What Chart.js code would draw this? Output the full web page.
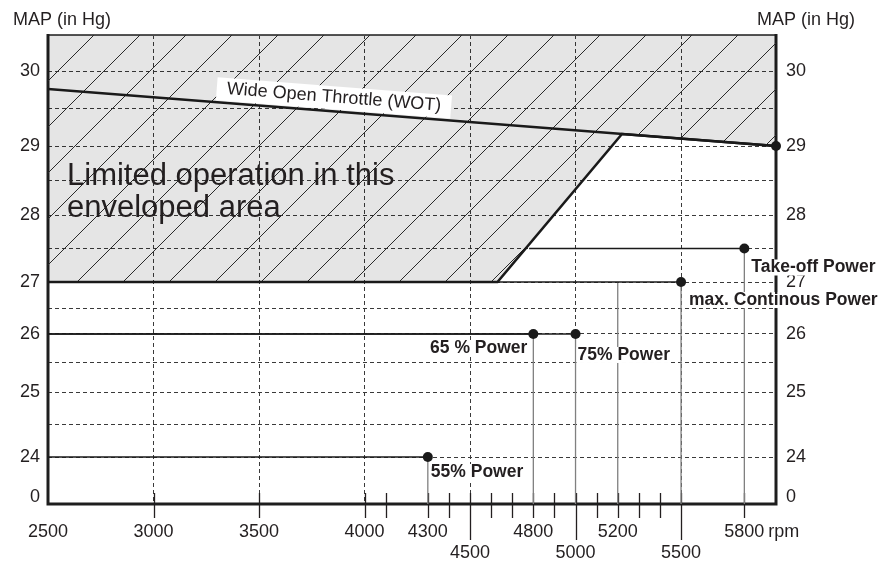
<!DOCTYPE html>
<html>
<head>
<meta charset="utf-8">
<title>MAP vs rpm</title>
<script src="https://cdn.jsdelivr.net/npm/chart.js@4.4.1/dist/chart.umd.min.js"></script>
<style>
  html, body { margin: 0; padding: 0; background: #fff; }
</style>
</head>
<body>
<canvas id="mapChart" width="894" height="562"></canvas>
<script>
// rpm axis: every tick mark, and which ones carry a label (upper or lower row)
const rpmTicks = [2500, 3000, 3500, 4000, 4100, 4300, 4400, 4500, 4600, 4700, 4800, 4900, 5000, 5100, 5200, 5300, 5400, 5500, 5800];
const rpmLabelsHigh = [2500, 3000, 3500, 4000, 4300, 4800, 5200, 5800];
const rpmLabelsLow = [4500, 5000, 5500];

// MAP axis (in Hg), half-step grid; the bottom of the axis is a break shown as 0
const mapTicks = [24, 24.5, 25, 25.5, 26, 26.5, 27, 27.5, 28, 28.5, 29, 29.5, 30];
const mapBreakTick = 23.38;

// wide open throttle line
const wotRpm = [2500, 5950];
const wotMap = [29.76, 29.0];

// lower edge of the limited operation envelope
const envRpm = [2500, 4630, 5220, 5950];
const envMap = [27, 27, 29.16, 29.0];

// power settings
const powerNames = ["55% Power", "65 % Power", "75% Power", "max. Continous Power", "Take-off Power"];
const powerRpm = [4300, 4800, 5000, 5500, 5800];
const powerMap = [24, 26, 26, 27, 27.5];
const powerFrom = [2500, 2500, 2500, 2500, 4780];

// extra guide from the 27 in Hg line down to 5200 rpm
const guideRpm = 5200;
const guideMap = 27;

const MAP_MIN = 23.27;
const MAP_MAX = 30.56;
const INK = "#231f20";
const FONT = '"Liberation Sans", Arial, Helvetica, sans-serif';

Chart.defaults.font.family = FONT;
Chart.defaults.color = INK;

// the printed MAP axis is not evenly spaced, so map it piece by piece
class BrokenLinearScale extends Chart.LinearScale {
  static id = "brokenLinear";

  _toDecimal(value) {
    const v = this.options.knots;
    const f = this.options.knotAt;
    let i = 1;
    while (i < v.length - 1 && value > v[i]) i++;
    const t = (value - v[i - 1]) / (v[i] - v[i - 1]);
    return f[i - 1] + t * (f[i] - f[i - 1]);
  }

  getPixelForValue(value) {
    if (value === null || isNaN(value)) return NaN;
    return this.getPixelForDecimal(this._toDecimal(value));
  }

  getValueForPixel(pixel) {
    const d = this.getDecimalForPixel(pixel);
    const v = this.options.knots;
    const f = this.options.knotAt;
    let i = 1;
    while (i < f.length - 1 && d > f[i]) i++;
    const t = (d - f[i - 1]) / (f[i] - f[i - 1]);
    return v[i - 1] + t * (v[i] - v[i - 1]);
  }
}
Chart.register(BrokenLinearScale);

const mapAxisKnots = [MAP_MIN, 24, 25, 26, 27, 28, 29, 30, MAP_MAX];
const mapAxisKnotAt = [0, 0.1002, 0.2388, 0.3625, 0.4733, 0.6162, 0.7633, 0.9232, 1];

function hatchPattern() {
  const t = document.createElement("canvas");
  t.width = 46;
  t.height = 46;
  const c = t.getContext("2d");
  c.fillStyle = "rgba(0,0,0,0.1)";
  c.fillRect(0, 0, 46, 46);
  c.strokeStyle = "#2a2a2a";
  c.lineWidth = 1;
  c.beginPath();
  c.moveTo(-2, 39);
  c.lineTo(39, -2);
  c.moveTo(35, 48);
  c.lineTo(48, 35);
  c.stroke();
  return c.createPattern(t, "repeat");
}

const powerSets = powerNames.map((name, i) => ({
  label: name,
  data: [
    { x: powerFrom[i], y: powerMap[i] },
    { x: powerRpm[i], y: powerMap[i] },
    { x: powerRpm[i], y: MAP_MIN },
  ],
  borderColor: "#1a1a1a",
  borderWidth: 1.3,
  segment: {
    borderColor: (c) => (c.p0.parsed.y === c.p1.parsed.y ? "#1a1a1a" : "#808080"),
  },
  pointRadius: (c) => (c.dataIndex === 1 ? 5 : 0),
  pointBackgroundColor: "#1a1a1a",
  pointBorderWidth: 0,
  order: 1,
}));

const labelOffsets = [
  [3, 15, "left"],
  [-6, 14, "right"],
  [2, 21, "left"],
  [8, 18, "left"],
  [7, 19, "left"],
];

const frameAndTicks = {
  id: "frameAndTicks",
  beforeDatasetsDraw(chart) {
    const { ctx, chartArea: a, scales: { x } } = chart;
    ctx.save();
    ctx.strokeStyle = INK;
    ctx.lineWidth = 1.3;
    rpmTicks.forEach((v) => {
      if (v === rpmTicks[0]) return;
      const px = Math.round(x.getPixelForValue(v)) + 0.5;
      const down = rpmLabelsLow.includes(v) ? 36 : 14;
      ctx.beginPath();
      ctx.moveTo(px, a.bottom - 11);
      ctx.lineTo(px, a.bottom + down);
      ctx.stroke();
    });
    ctx.strokeStyle = "#555";
    ctx.lineWidth = 2;
    ctx.beginPath();
    ctx.moveTo(a.left, a.top);
    ctx.lineTo(a.right, a.top);
    ctx.stroke();
    ctx.strokeStyle = "#1e1e1e";
    ctx.lineWidth = 3;
    ctx.beginPath();
    ctx.moveTo(a.left, a.top - 1);
    ctx.lineTo(a.left, a.bottom);
    ctx.lineTo(a.right, a.bottom);
    ctx.lineTo(a.right, a.top - 1);
    ctx.stroke();
    ctx.restore();
  },
};

const annotations = {
  id: "annotations",
  afterDatasetsDraw(chart) {
    const { ctx, chartArea: a, scales: { x, y } } = chart;
    ctx.save();
    ctx.fillStyle = INK;

    // axis titles
    ctx.font = "18px " + FONT;
    ctx.textBaseline = "alphabetic";
    ctx.textAlign = "left";
    ctx.fillText("MAP (in Hg)", 13, 25);
    ctx.fillText("MAP (in Hg)", 757, 25);

    // unit after the last rpm label
    ctx.textBaseline = "middle";
    ctx.fillText("rpm", x.getPixelForValue(5800) + 24, a.bottom + 28);

    // envelope text
    ctx.textBaseline = "alphabetic";
    ctx.font = "31px " + FONT;
    const ty = y.getPixelForValue(28.43);
    ctx.fillText("Limited operation in this", a.left + 19, ty);
    ctx.fillText("enveloped area", a.left + 19, ty + 32);

    // WOT label along the line
    const p0x = x.getPixelForValue(wotRpm[0]);
    const p0y = y.getPixelForValue(wotMap[0]);
    const p1x = x.getPixelForValue(wotRpm[wotRpm.length - 1]);
    const p1y = y.getPixelForValue(wotMap[wotMap.length - 1]);
    const ang = Math.atan2(p1y - p0y, p1x - p0x);
    const cx = x.getPixelForValue(3850);
    const cy = p0y + (cx - p0x) * Math.tan(ang);
    ctx.save();
    ctx.translate(cx, cy);
    ctx.rotate(ang);
    ctx.font = "18px " + FONT;
    const wot = "Wide Open Throttle (WOT)";
    const ww = ctx.measureText(wot).width;
    ctx.fillStyle = "#fff";
    ctx.fillRect(-ww / 2 - 10, -25, ww + 20, 23);
    ctx.fillStyle = INK;
    ctx.textAlign = "center";
    ctx.textBaseline = "middle";
    ctx.fillText(wot, 0, -14);
    ctx.restore();

    // power labels
    ctx.font = "bold 17.5px " + FONT;
    ctx.textBaseline = "middle";
    powerNames.forEach((name, i) => {
      const pt = chart.getDatasetMeta(i).data[1];
      const [dx, dy, align] = labelOffsets[i];
      const w = ctx.measureText(name).width;
      const lx = align === "right" ? pt.x + dx - w : pt.x + dx;
      const ly = pt.y + dy;
      ctx.fillStyle = "#fff";
      ctx.fillRect(lx - 1, ly - 8, w + 2, 16);
      ctx.fillStyle = INK;
      ctx.textAlign = "left";
      ctx.fillText(name, lx, ly);
    });
    ctx.restore();
  },
};

const mapAxis = (position, width, padding, onChart) => ({
  type: "brokenLinear",
  position: position,
  min: MAP_MIN,
  max: MAP_MAX,
  knots: mapAxisKnots,
  knotAt: mapAxisKnotAt,
  afterBuildTicks: (s) => {
    s.ticks = [mapBreakTick, ...mapTicks].map((v) => ({ value: v }));
  },
  afterFit: (s) => {
    s.width = width;
  },
  ticks: {
    autoSkip: false,
    padding: padding,
    font: { size: 18 },
    callback: (v) => (v === mapBreakTick ? "0" : Number.isInteger(v) ? String(v) : ""),
  },
  grid: {
    drawOnChartArea: onChart,
    drawTicks: false,
    lineWidth: 1,
    borderDash: [4, 3],
    color: (c) => (c.tick && c.tick.value === mapBreakTick ? "rgba(0,0,0,0)" : "#3a3a3a"),
  },
  border: { display: false, dash: [4, 3] },
});

const ctx = document.getElementById("mapChart");
new Chart(ctx, {
  type: "line",
  data: {
    datasets: [
      ...powerSets,
      {
        label: "guide",
        data: [
          { x: guideRpm, y: guideMap },
          { x: guideRpm, y: MAP_MIN },
        ],
        borderColor: "#808080",
        borderWidth: 1.3,
        pointRadius: 0,
        order: 1,
      },
      {
        label: "WOT",
        data: wotRpm.map((v, i) => ({ x: v, y: wotMap[i] })),
        borderColor: "#1a1a1a",
        borderWidth: 2.6,
        pointRadius: (c) => (c.dataIndex === wotRpm.length - 1 ? 5 : 0),
        pointBackgroundColor: "#1a1a1a",
        pointBorderWidth: 0,
        clip: false,
        order: 0,
      },
      {
        label: "envelope",
        data: envRpm.map((v, i) => ({ x: v, y: envMap[i] })),
        borderColor: "#1a1a1a",
        borderWidth: 2.6,
        backgroundColor: hatchPattern(),
        fill: "end",
        pointRadius: 0,
        order: 10,
      },
    ],
  },
  options: {
    responsive: false,
    animation: false,
    events: [],
    layout: {
      padding: { top: 35, left: 0, right: 0, bottom: 0 },
    },
    plugins: {
      legend: { display: false },
      tooltip: { enabled: false },
    },
    scales: {
      x: {
        type: "linear",
        position: "bottom",
        min: 2500,
        max: 5950,
        afterBuildTicks: (s) => {
          s.ticks = rpmTicks.map((v) => ({ value: v }));
        },
        afterFit: (s) => {
          s.height = 58;
        },
        ticks: {
          autoSkip: false,
          maxRotation: 0,
          padding: 17,
          font: { size: 18 },
          callback: (v) => {
            if (rpmLabelsLow.includes(v)) return ["", String(v)];
            if (rpmLabelsHigh.includes(v)) return String(v);
            return "";
          },
        },
        grid: {
          drawTicks: false,
          lineWidth: 1,
          borderDash: [4, 3],
          color: (c) =>
            c.tick && c.tick.value % 500 === 0 && c.tick.value > 2500 ? "#3a3a3a" : "rgba(0,0,0,0)",
        },
        border: { display: false, dash: [4, 3] },
      },
      y: mapAxis("left", 48, 8, true),
      y2: mapAxis("right", 118, 10, false),
    },
  },
  plugins: [frameAndTicks, annotations],
});
</script>
</body>
</html>
